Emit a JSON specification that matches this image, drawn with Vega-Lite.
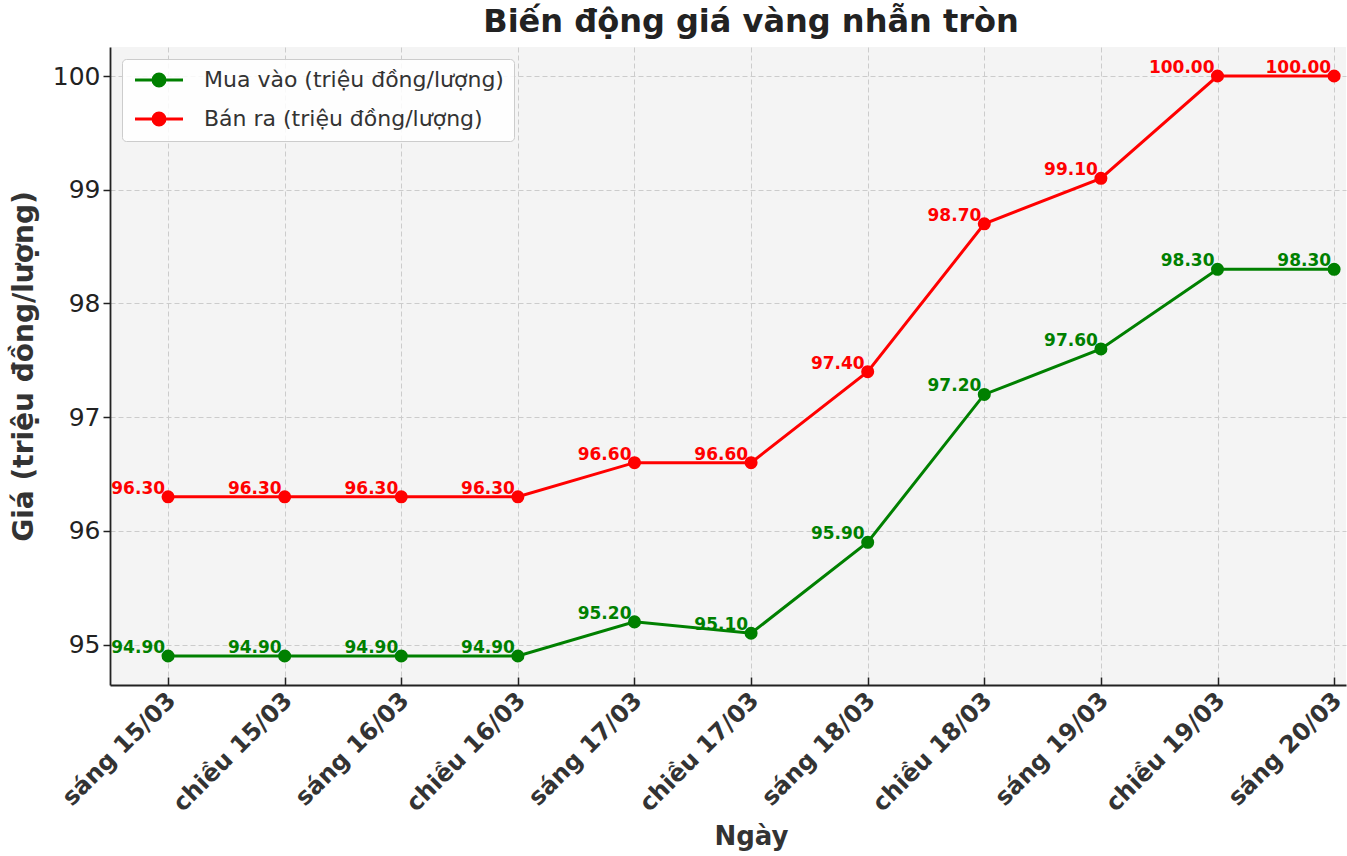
{
  "$schema": "https://vega.github.io/schema/vega-lite/v6.json",
  "width": 1236,
  "height": 638,
  "autosize": "none",
  "padding": {"left": 110, "top": 47, "right": 1, "bottom": 171},
  "background": "white",
  "title": {"text": "Biến động giá vàng nhẫn tròn", "fontSize": 32, "font": "DejaVu Sans", "fontWeight": "bold", "color": "#222222", "anchor": "middle", "dx": 23, "offset": 8},
  "config": {
    "view": {"fill": "#f4f4f4", "stroke": null},
    "font": "DejaVu Sans"
  },
  "data": {
    "values": [
      {"i": 0, "ngay": "sáng 15/03", "loai": "Mua vào (triệu đồng/lượng)", "gia": 94.9},
      {"i": 1, "ngay": "chiều 15/03", "loai": "Mua vào (triệu đồng/lượng)", "gia": 94.9},
      {"i": 2, "ngay": "sáng 16/03", "loai": "Mua vào (triệu đồng/lượng)", "gia": 94.9},
      {"i": 3, "ngay": "chiều 16/03", "loai": "Mua vào (triệu đồng/lượng)", "gia": 94.9},
      {"i": 4, "ngay": "sáng 17/03", "loai": "Mua vào (triệu đồng/lượng)", "gia": 95.2},
      {"i": 5, "ngay": "chiều 17/03", "loai": "Mua vào (triệu đồng/lượng)", "gia": 95.1},
      {"i": 6, "ngay": "sáng 18/03", "loai": "Mua vào (triệu đồng/lượng)", "gia": 95.9},
      {"i": 7, "ngay": "chiều 18/03", "loai": "Mua vào (triệu đồng/lượng)", "gia": 97.2},
      {"i": 8, "ngay": "sáng 19/03", "loai": "Mua vào (triệu đồng/lượng)", "gia": 97.6},
      {"i": 9, "ngay": "chiều 19/03", "loai": "Mua vào (triệu đồng/lượng)", "gia": 98.3},
      {"i": 10, "ngay": "sáng 20/03", "loai": "Mua vào (triệu đồng/lượng)", "gia": 98.3},
      {"i": 0, "ngay": "sáng 15/03", "loai": "Bán ra (triệu đồng/lượng)", "gia": 96.3},
      {"i": 1, "ngay": "chiều 15/03", "loai": "Bán ra (triệu đồng/lượng)", "gia": 96.3},
      {"i": 2, "ngay": "sáng 16/03", "loai": "Bán ra (triệu đồng/lượng)", "gia": 96.3},
      {"i": 3, "ngay": "chiều 16/03", "loai": "Bán ra (triệu đồng/lượng)", "gia": 96.3},
      {"i": 4, "ngay": "sáng 17/03", "loai": "Bán ra (triệu đồng/lượng)", "gia": 96.6},
      {"i": 5, "ngay": "chiều 17/03", "loai": "Bán ra (triệu đồng/lượng)", "gia": 96.6},
      {"i": 6, "ngay": "sáng 18/03", "loai": "Bán ra (triệu đồng/lượng)", "gia": 97.4},
      {"i": 7, "ngay": "chiều 18/03", "loai": "Bán ra (triệu đồng/lượng)", "gia": 98.7},
      {"i": 8, "ngay": "sáng 19/03", "loai": "Bán ra (triệu đồng/lượng)", "gia": 99.1},
      {"i": 9, "ngay": "chiều 19/03", "loai": "Bán ra (triệu đồng/lượng)", "gia": 100.0},
      {"i": 10, "ngay": "sáng 20/03", "loai": "Bán ra (triệu đồng/lượng)", "gia": 100.0}
    ]
  },
  "encoding": {
    "x": {
      "field": "ngay",
      "type": "ordinal",
      "sort": ["sáng 15/03", "chiều 15/03", "sáng 16/03", "chiều 16/03", "sáng 17/03", "chiều 17/03", "sáng 18/03", "chiều 18/03", "sáng 19/03", "chiều 19/03", "sáng 20/03"],
      "scale": {"type": "point", "padding": 0.3, "align": 0.83},
      "axis": {
        "title": "Ngày",
        "titleFontSize": 26,
        "titleFontWeight": "bold",
        "titleColor": "#333333",
        "titleX": 641,
        "titlePadding": 8,
        "labelAngle": 315,
        "labelAlign": "right",
        "labelBaseline": "top",
        "labelFontSize": 24,
        "labelFontWeight": "bold",
        "labelColor": "#333333",
        "labelPadding": 11,
        "labelOffset": -5,
        "labelLimit": 0,
        "tickSize": -8,
        "tickColor": "#222222",
        "tickWidth": 1.5,
        "domainColor": "#222222",
        "domainWidth": 1.8,
        "grid": true,
        "gridColor": "#cccccc",
        "gridDash": [5, 3],
        "gridWidth": 1
      }
    },
    "y": {
      "field": "gia",
      "type": "quantitative",
      "scale": {"domain": [94.645, 100.255], "nice": false, "zero": false},
      "axis": {
        "title": "Giá (triệu đồng/lượng)",
        "titleFontSize": 28,
        "titleFontWeight": "bold",
        "titleColor": "#333333",
        "titlePadding": 14,
        "values": [95, 96, 97, 98, 99, 100],
        "format": "d",
        "labelFontSize": 25,
        "labelColor": "#222222",
        "labelPadding": 3,
        "tickSize": 7,
        "tickColor": "#222222",
        "tickWidth": 1.5,
        "domainColor": "#222222",
        "domainWidth": 1.8,
        "grid": true,
        "gridColor": "#cccccc",
        "gridDash": [5, 3],
        "gridWidth": 1
      }
    },
    "color": {
      "field": "loai",
      "type": "nominal",
      "scale": {"domain": ["Mua vào (triệu đồng/lượng)", "Bán ra (triệu đồng/lượng)"], "range": ["#008000", "#ff0000"]},
      "legend": {
        "title": null,
        "orient": "top-left",
        "offset": 12,
        "fillColor": "rgba(255,255,255,0.85)",
        "strokeColor": "#cccccc",
        "cornerRadius": 4,
        "padding": 10,
        "labelFontSize": 22,
        "labelColor": "#333333",
        "labelLimit": 0,
        "labelOffset": 52,
        "rowPadding": 15,
        "symbolType": "M-1,0L7,0M2,0A1,1,0,1,1,4,0A1,1,0,1,1,2,0Z",
        "symbolSize": 144,
        "symbolStrokeWidth": 3,
        "symbolOffset": -2
      }
    }
  },
  "layer": [
    {"mark": {"type": "line", "strokeWidth": 3}, "encoding": {"order": {"field": "i", "type": "quantitative"}}},
    {"mark": {"type": "point", "filled": true, "size": 170, "opacity": 1}},
    {
      "mark": {"type": "text", "align": "right", "baseline": "alphabetic", "dx": -3, "dy": -3, "fontSize": 17, "fontWeight": "bold"},
      "encoding": {"text": {"field": "gia", "type": "quantitative", "format": ".2f"}}
    }
  ]
}
